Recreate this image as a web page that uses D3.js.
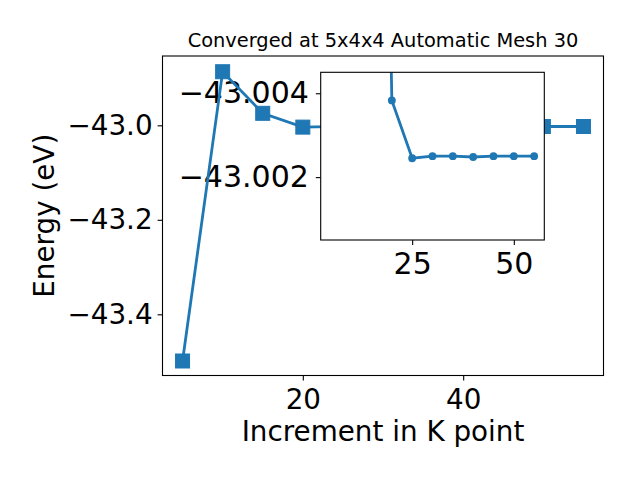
<!DOCTYPE html>
<html><head><meta charset="utf-8">
<script src="https://cdn.jsdelivr.net/npm/d3@7"></script>
<style>body{margin:0;background:#fff}svg{display:block}text{font-family:"DejaVu Sans",sans-serif;fill:#000}</style>
</head><body><svg id="c" width="640" height="480"></svg>
<script>
// Main series
const kPoints = [5, 10, 15, 20, 25, 30, 35, 40, 45, 50, 55];
const energies = [-43.4988, -42.8866, -42.9746, -43.00383, -43.00245, -43.0025, -43.0025, -43.00248, -43.0025, -43.0025, -43.0025];
const xTicks = [20, 40];
const yTicks = [-43.4, -43.2, -43.0];
// Inset series (first point lies far above the inset's visible range)
const insetK = [15, 20, 25, 30, 35, 40, 45, 50, 55];
const insetE = [-43.03, -43.00383, -43.00245, -43.0025, -43.0025, -43.00248, -43.0025, -43.0025, -43.0025];
const insetXTicks = [25, 50];
const insetYTicks = [-43.004, -43.002];
const title = "Converged at 5x4x4 Automatic Mesh 30";
const xLabel = "Increment in K point";
const yLabel = "Energy (eV)";

const color = "#1f77b4";
const svg = d3.select("#c");
const fmt = d => (d < 0 ? "\u2212" : "") + Math.abs(d).toFixed(1);
const fmt3 = d => (d < 0 ? "\u2212" : "") + Math.abs(d).toFixed(3);
const FS = 27.8, IFS = 30, LW = 2.8;

const L = 162.5, R = 603.5, T = 56, B = 375.5;
const x = d3.scaleLinear().domain([2.5, 57.5]).range([L, R]);
const y = d3.scaleLinear().domain([-43.5295, -42.8533]).range([B, T]);

const iL = 320.7, iR = 544.3, iT = 72.3, iB = 240;
const ix = d3.scaleLinear().domain([2.5, 57.5]).range([iL, iR]);
const iy = d3.scaleLinear().domain([-43.0045, -43.0005]).range([iT, iB]);

function style(g, fs) {
  g.select(".domain").remove();
  g.selectAll("line").attr("stroke","#000").attr("stroke-width",1.1);
  g.selectAll("text").attr("font-size",fs).attr("font-family","DejaVu Sans").attr("fill","#000");
}

// Inset axes ticks/labels (lie beneath the main line)
const igx = svg.append("g").attr("transform",`translate(0,${iB})`)
  .call(d3.axisBottom(ix).tickValues(insetXTicks).tickSize(4.9).tickPadding(8).tickFormat(d3.format("d")));
const igy = svg.append("g").attr("transform",`translate(${iL},0)`)
  .call(d3.axisLeft(iy).tickValues(insetYTicks).tickSize(4.9).tickPadding(7).tickFormat(fmt3));
style(igx, IFS); style(igy, IFS);

// Main axes
const main = svg.append("g");
main.append("clipPath").attr("id","mc").append("rect").attr("x",L).attr("y",T).attr("width",R-L).attr("height",B-T);
const mg = main.append("g").attr("clip-path","url(#mc)");
const mdata = kPoints.map((k,i)=>[k,energies[i]]);
mg.append("path").datum(mdata)
  .attr("d", d3.line().x(d=>x(d[0])).y(d=>y(d[1])))
  .attr("fill","none").attr("stroke",color).attr("stroke-width",LW);
mg.selectAll("rect.m").data(mdata).enter().append("rect")
  .attr("x",d=>x(d[0])-7).attr("y",d=>y(d[1])-7).attr("width",14).attr("height",14)
  .attr("fill",color).attr("stroke",color).attr("stroke-width",1);

const gx = main.append("g").attr("transform",`translate(0,${B})`)
  .call(d3.axisBottom(x).tickValues(xTicks).tickSize(4.9).tickPadding(9).tickFormat(d3.format("d")));
const gy = main.append("g").attr("transform",`translate(${L},0)`)
  .call(d3.axisLeft(y).tickValues(yTicks).tickSize(4.9).tickPadding(5).tickFormat(fmt));
style(gx, FS); style(gy, FS);
main.append("rect").attr("x",L).attr("y",T).attr("width",R-L).attr("height",B-T)
  .attr("fill","none").attr("stroke","#000").attr("stroke-width",1.1);

svg.append("text").attr("x",(L+R)/2).attr("y",47).attr("text-anchor","middle").attr("font-size",19.4).text(title);
svg.append("text").attr("x",(L+R)/2).attr("y",441).attr("text-anchor","middle").attr("font-size",FS).text(xLabel);
svg.append("text").attr("transform",`translate(54,${(T+B)/2}) rotate(-90)`).attr("text-anchor","middle").attr("font-size",FS).text(yLabel);

// Inset plot area
const ins = svg.append("g");
ins.append("rect").attr("x",iL).attr("y",iT).attr("width",iR-iL).attr("height",iB-iT).attr("fill","#fff");
ins.append("clipPath").attr("id","ic").append("rect").attr("x",iL).attr("y",iT).attr("width",iR-iL).attr("height",iB-iT);
const ig = ins.append("g").attr("clip-path","url(#ic)");
const idata = insetK.map((k,i)=>[k,insetE[i]]);
ig.append("path").datum(idata).attr("d", d3.line().x(d=>ix(d[0])).y(d=>iy(d[1])))
  .attr("fill","none").attr("stroke",color).attr("stroke-width",LW);
ig.selectAll("circle").data(idata).enter().append("circle")
  .attr("cx",d=>ix(d[0])).attr("cy",d=>iy(d[1])).attr("r",3.9).attr("fill",color);
ins.append("rect").attr("x",iL).attr("y",iT).attr("width",iR-iL).attr("height",iB-iT)
  .attr("fill","none").attr("stroke","#000").attr("stroke-width",1.1);
</script></body></html>
